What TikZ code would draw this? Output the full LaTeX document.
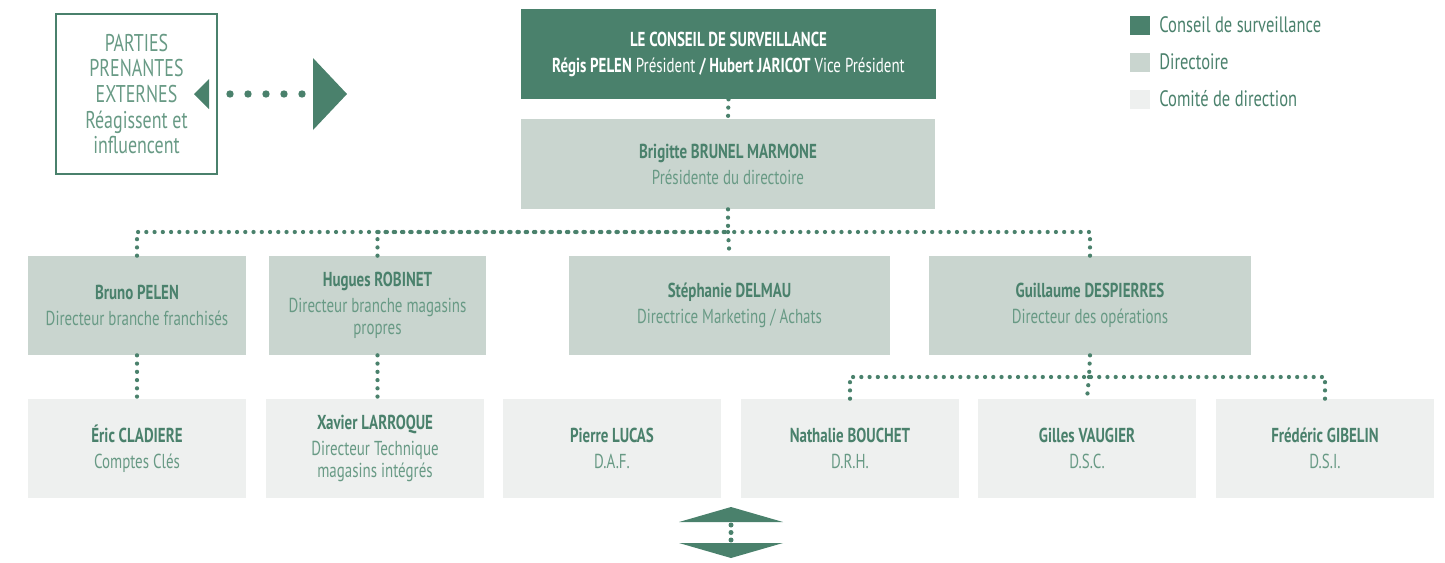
\documentclass[tikz,border=0pt]{standalone}
\usepackage{fontspec}
\setmainfont{PT Sans}[FakeStretch=0.74]
\usepackage{xcolor}
\usetikzlibrary{positioning}
\definecolor{vertfonce}{HTML}{4A816C}
\definecolor{vertclair}{HTML}{C9D5CF}
\definecolor{grisclair}{HTML}{EEF0EF}
\definecolor{vertmoyen}{HTML}{689A85}
\tikzset{
    carte/.style={inner sep=0pt, align=center, text=vertmoyen, font=\fontsize{11.5}{12.8}\selectfont},
    dirbox/.style={carte, fill=vertclair, minimum width=4.36cm, minimum height=1.98cm},
    comitebox/.style={carte, fill=grisclair, minimum width=4.36cm, minimum height=1.98cm},
    large/.style={minimum width=6.44cm},
    pointille/.style={draw=vertfonce, line width=0.085cm, line cap=round, dash pattern=on 0pt off 0.165cm},
    legende/.style={anchor=west, inner sep=0pt, text=vertfonce, font=\fontsize{12.7}{14}\selectfont},
}
\newcommand{\membre}[5]{
    \node[#2] (#1) at (#3) {\textcolor{vertfonce}{\textbf{#4}}\\[2pt]#5};
}

\begin{document}
\begin{tikzpicture}[x=0.02cm, y=-0.02cm]
    \useasboundingbox (0,0) rectangle (1445,562);
    % parties prenantes
    \node[draw=vertfonce, line width=0.03cm, minimum width=3.22cm, minimum height=3.2cm, align=center,
        text=vertmoyen, font=\fontsize{13.8}{14.6}\selectfont] (parties) at (136.5,94)
        {PARTIES\\PRENANTES\\EXTERNES\\Réagissent et\\influencent};
    \fill[vertfonce] (194,94) -- (209,79) -- (209,109) -- cycle;
    \foreach \x in {230,248,266,284,302}
        \fill[vertfonce] (\x,94) circle (3.7);
    \fill[vertfonce] (313,58) -- (347,94) -- (313,130) -- cycle;
    % conseil et directoire
    \node[carte, fill=vertfonce, text=white, minimum width=8.3cm, minimum height=1.8cm] (conseil) at (728.5,54)
        {\textbf{LE CONSEIL DE SURVEILLANCE}\\[2pt]\textbf{Régis PELEN} Président \textbf{/ Hubert JARICOT} Vice Président};
    \membre{presidente}{dirbox, minimum width=8.28cm, minimum height=1.8cm}{728,164}{Brigitte BRUNEL MARMONE}{Présidente du directoire}
    \membre{pelen}{dirbox}{137,305.5}{Bruno PELEN}{Directeur branche franchisés}
    \membre{robinet}{dirbox}{377.5,305.5}{Hugues ROBINET}{Directeur branche magasins\\propres}
    \membre{delmau}{dirbox, large}{729.5,305.5}{Stéphanie DELMAU}{Directrice Marketing / Achats}
    \membre{despierres}{dirbox, large}{1090,305.5}{Guillaume DESPIERRES}{Directeur des opérations}
    % comite de direction
    \membre{cladiere}{comitebox}{137,448.5}{Éric CLADIERE}{Comptes Clés}
    \membre{larroque}{comitebox}{375,448.5}{Xavier LARROQUE}{Directeur Technique\\magasins intégrés}
    \membre{lucas}{comitebox}{612,448.5}{Pierre LUCAS}{D.A.F.}
    \membre{bouchet}{comitebox}{850,448.5}{Nathalie BOUCHET}{D.R.H.}
    \membre{vaugier}{comitebox}{1087,448.5}{Gilles VAUGIER}{D.S.C.}
    \membre{gibelin}{comitebox}{1325,448.5}{Frédéric GIBELIN}{D.S.I.}
    % liaisons
    \coordinate (bus) at (728,232);
    \coordinate (busops) at (1089,377);
    \draw[pointille] (conseil.south) -- (presidente.north);
    \draw[pointille] (presidente.south) -- (bus);
    \draw[pointille] (pelen.north) |- (bus);
    \draw[pointille] (robinet.north) |- (bus);
    \draw[pointille] (despierres.north) |- (bus);
    \draw[pointille] (bus) -- (delmau.north);
    \draw[pointille] (pelen.south) -- (cladiere.north);
    \draw[pointille] (robinet.south) -- (robinet.south |- larroque.north);
    \draw[pointille] (despierres.south) -- (busops);
    \draw[pointille] (bouchet.north) |- (busops);
    \draw[pointille] (gibelin.north) |- (busops);
    \draw[pointille] (busops) -- (vaugier.north);
    % double fleche
    \fill[vertfonce] (679,522) -- (731,507) -- (783,522) -- cycle;
    \fill[vertfonce] (679,543) -- (783,543) -- (731,558) -- cycle;
    \foreach \y in {525,532.5,540}
        \fill[vertfonce] (731,\y) circle (2.5);
    % legende
    \fill[vertfonce] (1130,16) rectangle (1150,35);
    \fill[vertclair] (1130,53) rectangle (1150,72);
    \fill[grisclair] (1130,90) rectangle (1150,109);
    \node[legende] (leg1) at (1159,25) {Conseil de surveillance};
    \node[legende] (leg2) at (1159,62) {Directoire};
    \node[legende] (leg3) at (1159,99) {Comité de direction};
\end{tikzpicture}
\end{document}
